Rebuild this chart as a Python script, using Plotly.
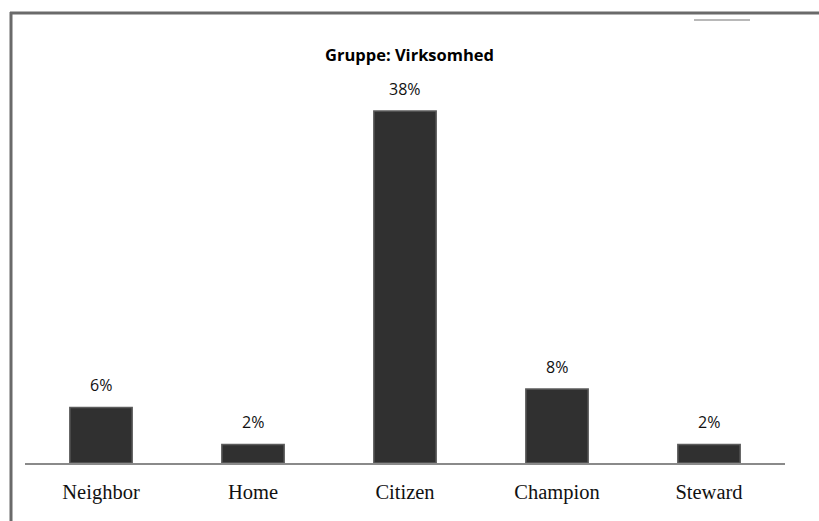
import plotly.graph_objects as go

categories = ["Neighbor", "Home", "Citizen", "Champion", "Steward"]
values = [6, 2, 38, 8, 2]
labels = ["6%", "2%", "38%", "8%", "2%"]
title_text = "Gruppe: Virksomhed"

W, H = 819, 521
L, R, T, B = 25, 34, 74, 58

fig = go.Figure()
fig.add_trace(go.Bar(
    x=categories, y=values,
    cliponaxis=False,
    marker=dict(color="#303030", line=dict(color="#5c5c5c", width=1.5)),
    width=0.41,
))

for c, v, t in zip(categories, values, labels):
    fig.add_annotation(x=c, y=v, text=t, showarrow=False, yanchor="middle", yshift=22,
                       font=dict(family="Open Sans", size=16, color="#111111"))

pw, ph = W - L - R, H - T - B
def px_x(p): return (p - L) / pw
def px_y(p): return (H - B - p) / ph

shapes = [
    dict(type="line", xref="paper", yref="paper", x0=px_x(11), x1=px_x(11), y0=px_y(12), y1=px_y(521),
         line=dict(color="#6a6a6a", width=3)),
    dict(type="line", xref="paper", yref="paper", x0=px_x(10), x1=px_x(819), y0=px_y(13), y1=px_y(13),
         line=dict(color="#6a6a6a", width=3)),
    dict(type="line", xref="paper", yref="paper", x0=px_x(694), x1=px_x(750), y0=px_y(20), y1=px_y(20),
         line=dict(color="#b8b8b8", width=2)),
]

fig.update_layout(
    width=W, height=H,
    margin=dict(l=L, r=R, t=T, b=B),
    paper_bgcolor="white", plot_bgcolor="white",
    showlegend=False,
    title=dict(text="<b>" + title_text + "</b>", x=0.5, xanchor="center", y=1 - 55 / H, yanchor="middle",
               font=dict(family="Open Sans", size=16.5, color="#000000")),
    xaxis=dict(showline=True, linecolor="#8a8a8a", linewidth=1.5, ticks="", showgrid=False,
               ticklabelstandoff=10,
               tickfont=dict(family="Liberation Serif", size=20.5, color="#111111")),
    yaxis=dict(visible=False, range=[0, 42], showgrid=False, zeroline=False),
    shapes=shapes,
    bargap=0.59,
)

fig.write_html("out.html")
